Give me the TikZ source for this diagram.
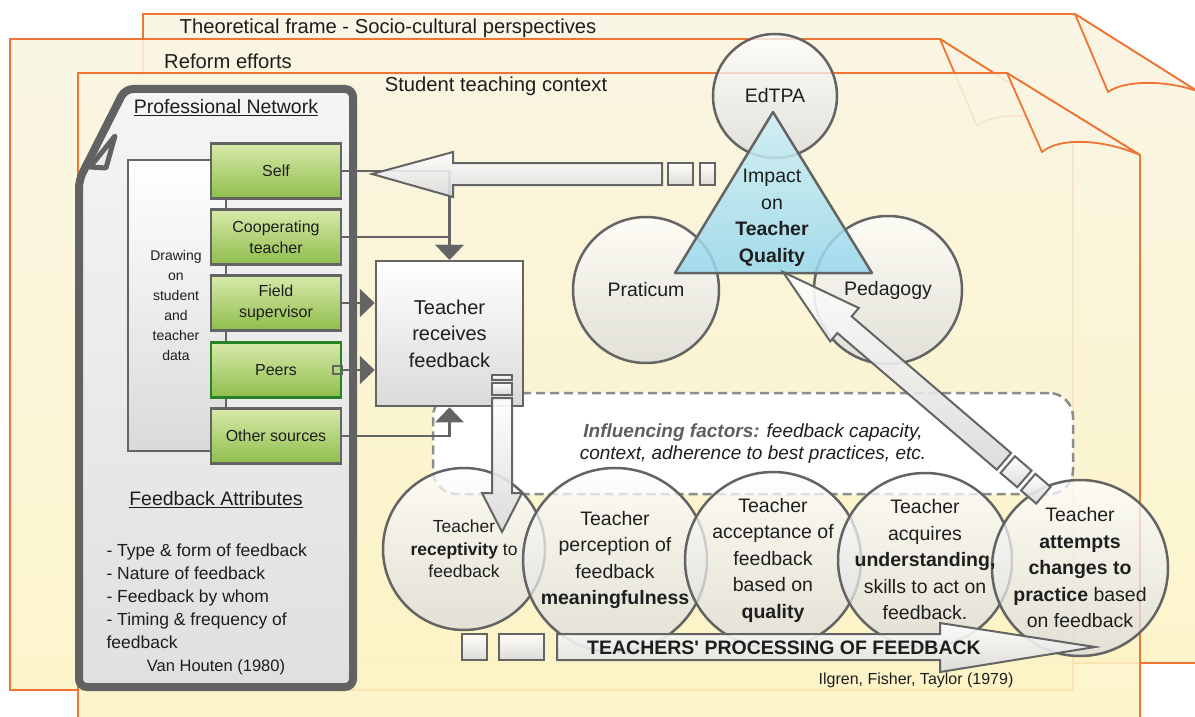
\documentclass[tikz,border=0pt]{standalone}
\usepackage{fontspec}
\setmainfont{Liberation Sans}
\usetikzlibrary{arrows.meta}

\definecolor{pageorange}{RGB}{240,116,52}
\definecolor{pagetop}{RGB}{249,245,226}
\definecolor{pagebot}{RGB}{252,244,196}
\definecolor{linegray}{RGB}{100,100,100}
\definecolor{panelgray}{RGB}{98,98,98}
\definecolor{boxgray}{RGB}{218,218,218}
\definecolor{greentop}{RGB}{216,233,170}
\definecolor{greenbot}{RGB}{143,190,76}
\definecolor{peersgreen}{RGB}{40,130,40}
\definecolor{bluetop}{RGB}{206,241,245}
\definecolor{bluebot}{RGB}{150,214,238}
\definecolor{textgray}{RGB}{30,30,30}
\definecolor{factorgray}{RGB}{95,95,95}
\definecolor{dashgray}{RGB}{140,140,140}

\begin{document}
\begin{tikzpicture}[x=1pt, y=-1pt,
    page/.style={draw=pageorange, line width=1.8pt, top color=pagetop, bottom color=pagebot, fill opacity=0.88},
    flap/.style={draw=pageorange, line width=1.8pt, fill=pagetop, line join=round},
    srcbox/.style={draw=linegray, line width=2.5pt, top color=greentop, bottom color=greenbot, minimum width=130pt, minimum height=55pt, inner sep=0pt, align=center, text=textgray, font=\fontsize{16}{21}\selectfont},
    bubble/.style={circle, draw=linegray, line width=2.5pt, top color=white, bottom color=boxgray, fill opacity=0.75, inner sep=0pt},
    bubbletext/.style={align=center, text=textgray, font=\fontsize{19.5}{26.5}\selectfont},
    feed/.style={draw=linegray, line width=2.5pt, -{Triangle[length=15pt, width=28pt]}},
    hollow/.style={draw=linegray, line width=2pt, top color=white, bottom color=boxgray, fill opacity=0.9},
    frametitle/.style={text=textgray, font=\fontsize{20.2}{23}\selectfont}
]
    \useasboundingbox (0,0) rectangle (1195,717);

    % --- Framing pages (back to front) ---
    \draw[page] (143,663) -- (143,14) -- (1075,14) -- (1197,91) -- (1197,663) -- cycle;
    \draw[flap] (1075,14) -- (1108,92) .. controls (1125,80) and (1165,80) .. (1197,91) -- cycle;
    \draw[page] (10,690) -- (10,39) -- (940,39) -- (1073,123) -- (1073,690) -- cycle;
    \draw[flap] (940,39) -- (977,126) .. controls (992,113) and (1035,112) .. (1073,123) -- cycle;
    \draw[page] (78,722) -- (78,73) -- (1007,73) -- (1140,155) -- (1140,722) -- cycle;
    \draw[flap] (1007,73) -- (1042,152) .. controls (1058,138) and (1100,138) .. (1140,155) -- cycle;

    \node[frametitle] (frame) at (388,28) {Theoretical frame - Socio-cultural perspectives};
    \node[frametitle] (reform) at (228,61) {Reform efforts};
    \node[frametitle] (context) at (496,86) {Student teaching context};

    % --- Professional network panel ---
    \draw[draw=panelgray, line width=8pt, top color=white!96!black, bottom color=boxgray!85!white, rounded corners=8pt]
        (79,687) -- (79,180) -- (125,89) -- (353,89) -- (353,687) -- cycle;
    % folded corner
    \draw[panelgray, line width=5pt, fill=white!92!black, line join=round] (115,136) -- (90,167) -- (106,168) -- cycle;
    \node[frametitle, font=\fontsize{19.5}{23}\selectfont] (network) at (226,108) {\underline{Professional Network}};

    % inner data box
    \draw[draw=linegray, line width=2.5pt, top color=white, bottom color=boxgray] (128,160) rectangle (226,451);
    \node[align=center, text=textgray, font=\fontsize{14}{20}\selectfont] (drawing) at (176,305)
        {Drawing\\on\\student\\and\\teacher\\data};

    % feedback sources
    \node[srcbox] (self) at (276,171) {Self};
    \node[srcbox] (coop) at (276,237) {Cooperating\\teacher};
    \node[srcbox] (field) at (276,303) {Field\\supervisor};
    \node[srcbox, draw=peersgreen] (peers) at (276,370) {Peers};
    \node[srcbox] (other) at (276,436) {Other sources};

    % attributes
    \node[frametitle, font=\fontsize{19.5}{23}\selectfont] (attrib) at (216,500) {\underline{Feedback Attributes}};
    \node[align=left, anchor=west, text=textgray, font=\fontsize{17.5}{23}\selectfont] (attrlist) at (103,596)
        {- Type \& form of feedback\\- Nature of feedback\\- Feedback by whom\\- Timing \& frequency of\\feedback};
    \node[text=textgray, font=\fontsize{16.5}{20}\selectfont] (vanhouten) at (216,667) {Van Houten (1980)};

    % --- Influencing factors ---
    \node[draw=dashgray, line width=2.5pt, dash pattern=on 9pt off 5pt, fill=white, rounded corners=24pt,
        minimum width=640pt, minimum height=101pt, align=center, text=textgray,
        font=\fontsize{19}{22}\selectfont\itshape] (factors) at (753,443.5)
        {{\bfseries\color{factorgray}Influencing factors:} feedback capacity,\\context, adherence to best practices, etc.};

    % --- Teacher receives feedback ---
    \node[draw=linegray, line width=2.5pt, top color=white, bottom color=boxgray, minimum width=147pt, minimum height=145pt,
        align=center, text=textgray, font=\fontsize{20}{26.5}\selectfont] (recv) at (449.5,333.5) {Teacher\\receives\\feedback};

    \draw[feed] (self.east) -| (recv.north);
    \draw[feed] (coop.east) -| (recv.north);
    \draw[feed] (field.east) -- (field.east -| recv.west);
    \draw[feed] (peers.east) -- (peers.east -| recv.west);
    \draw[linegray, line width=2pt] (peers.east) ++(-9,-4) rectangle ++(9,8);
    \draw[feed] (other.east) -| (recv.south);

    % --- Teacher quality triangle ---
    \node[bubble, minimum size=124pt] (edtpa) at (775,96) {};
    \node[bubble, minimum size=146pt] (prac) at (646,290) {};
    \node[bubble, minimum size=148pt] (peda) at (888,290) {};
    \node[bubbletext] (edtpatxt) at (edtpa) {EdTPA};
    \node[bubbletext] (practxt) at (prac) {Praticum};
    \node[bubbletext] (pedatxt) at (peda) {Pedagogy};
    \draw[draw=linegray, line width=2.5pt, top color=bluetop, bottom color=bluebot, fill opacity=0.85, line join=round]
        (773,112) -- (872,273) -- (675,273) -- cycle;
    \node[bubbletext] (quality) at (772,218) {Impact\\on\\\textbf{Teacher}\\\textbf{Quality}};

    % big arrow back to self
    \draw[hollow] (372,174) -- (453,152) -- (453,163) -- (662,163) -- (662,185) -- (453,185) -- (453,197) -- cycle;
    \draw[hollow] (668,163) rectangle (693,185);
    \draw[hollow] (700,163) rectangle (715,185);

    % --- Processing of feedback ---
    \node[bubble, minimum size=162pt] (recept) at (464,549) {};
    \node[bubble, minimum size=184pt] (percep) at (615,560) {};
    \node[bubble, minimum size=176pt] (accept) at (773,560) {};
    \node[bubble, minimum size=174pt] (acquire) at (925,560) {};
    \node[bubble, minimum size=176pt] (attempt) at (1080,568) {};

    \node[bubbletext, font=\fontsize{17.5}{22.5}\selectfont] (recepttxt) at (recept) {Teacher\\\textbf{receptivity} to\\feedback};
    \node[bubbletext] (perceptxt) at (percep) {Teacher\\perception of\\feedback\\\textbf{meaningfulness}};
    \node[bubbletext] (accepttxt) at (accept) {Teacher\\acceptance of\\feedback\\based on\\\textbf{quality}};
    \node[bubbletext] (acquiretxt) at (acquire) {Teacher\\acquires\\\textbf{understanding,}\\skills to act on\\feedback.};
    \node[bubbletext] (attempttxt) at (attempt) {Teacher\\\textbf{attempts}\\\textbf{changes to}\\\textbf{practice} based\\on feedback};

    % arrow down from received feedback
    \draw[hollow] (492,375) rectangle (512,380);
    \draw[hollow] (492,383) rectangle (512,395);
    \draw[hollow] (492,398) -- (512,398) -- (512,493) -- (522,493) -- (502,532) -- (482,493) -- (492,493) -- cycle;

    % processing arrow
    \draw[hollow] (462,634) rectangle (487,660);
    \draw[hollow] (499,634) rectangle (544,660);
    \draw[hollow] (557,634) -- (940,634) -- (940,623) -- (1095,647) -- (940,672) -- (940,660) -- (557,660) -- cycle;
    \node[text=textgray, font=\fontsize{19.5}{23}\selectfont\bfseries] (processing) at (784,648) {TEACHERS\textquotesingle{} PROCESSING OF FEEDBACK};

    % arrow up to teacher quality
    \coordinate (qtip) at (783,272);
    \begin{scope}[shift={(qtip)}, rotate=-40.6]
        \draw[hollow] (0,0) -- (81,-22) -- (81,-11) -- (291,-11) -- (291,11) -- (81,11) -- (81,22) -- cycle;
        \draw[hollow] (296,-11) rectangle (318,11);
        \draw[hollow] (323,-11) rectangle (343,11);
    \end{scope}

    \node[text=textgray, font=\fontsize{16}{20}\selectfont] (ilgren) at (916,680) {Ilgren, Fisher, Taylor (1979)};
\end{tikzpicture}
\end{document}
